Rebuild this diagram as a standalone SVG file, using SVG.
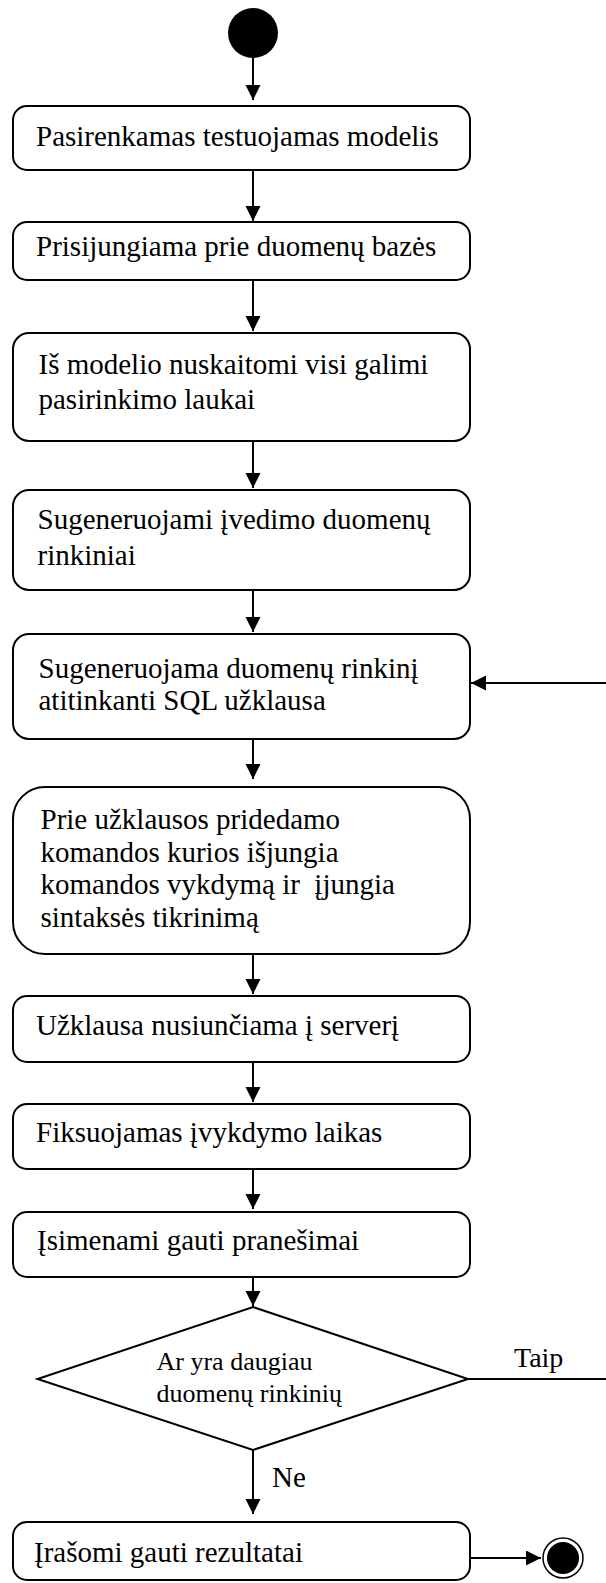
<svg xmlns="http://www.w3.org/2000/svg" width="606" height="1583" viewBox="0 0 606 1583">
<defs>
<marker id="arr" markerUnits="userSpaceOnUse" markerWidth="16" markerHeight="16" refX="15" refY="7.5" orient="auto">
<path d="M0,0 L15,7.5 L0,15 z" fill="#000"/>
</marker>
</defs>
<style>
.box{fill:#fff;stroke:#000;stroke-width:2}
.t{font-family:"Liberation Serif","Times New Roman",serif;font-size:29px;fill:#000}
.td{font-family:"Liberation Serif","Times New Roman",serif;font-size:26px;fill:#000}
.c{stroke:#000;stroke-width:2;fill:none}
.ca{stroke:#000;stroke-width:2;fill:none;marker-end:url(#arr)}
</style>
<rect width="606" height="1583" fill="#fff"/>
<g id="connectors">
<line class="ca" x1="253" y1="58" x2="253" y2="100"/>
<line class="ca" x1="253" y1="170" x2="253" y2="221"/>
<line class="ca" x1="253" y1="280" x2="253" y2="331"/>
<line class="ca" x1="253" y1="441" x2="253" y2="488"/>
<line class="ca" x1="253" y1="590" x2="253" y2="632"/>
<line class="ca" x1="253" y1="739" x2="253" y2="779"/>
<line class="ca" x1="253" y1="954" x2="253" y2="994"/>
<line class="ca" x1="253" y1="1062" x2="253" y2="1102"/>
<line class="ca" x1="253" y1="1169" x2="253" y2="1209"/>
<line class="ca" x1="253" y1="1277" x2="253" y2="1306"/>
<line class="ca" x1="253" y1="1450" x2="253" y2="1514"/>
<line class="ca" x1="470" y1="1558" x2="541" y2="1558"/>
<line class="c" x1="468" y1="1379" x2="606" y2="1379"/>
<line class="ca" x1="606" y1="683" x2="471" y2="683"/>
<text class="t" x="514" y="1367" style="font-size:28px">Taip</text>
<text class="t" x="272" y="1487">Ne</text>
</g>
<g id="start"><circle cx="253" cy="33" r="25" fill="#000"/></g>
<g id="n1"><rect class="box" x="13" y="106" width="457" height="64" rx="14"/>
<text class="t" x="36" y="146">Pasirenkamas testuojamas modelis</text></g>
<g id="n2"><rect class="box" x="13" y="222" width="457" height="58" rx="14"/>
<text class="t" x="36" y="256">Prisijungiama prie duomenų bazės</text></g>
<g id="n3"><rect class="box" x="13" y="333" width="457" height="108" rx="16"/>
<text class="t" x="38.5" y="374">Iš modelio nuskaitomi visi galimi</text>
<text class="t" x="38.5" y="409">pasirinkimo laukai</text></g>
<g id="n4"><rect class="box" x="13" y="490" width="457" height="100" rx="16"/>
<text class="t" x="37.5" y="529">Sugeneruojami įvedimo duomenų</text>
<text class="t" x="37.5" y="565">rinkiniai</text></g>
<g id="n5"><rect class="box" x="13" y="634" width="457" height="105" rx="16"/>
<text class="t" x="38.5" y="678">Sugeneruojama duomenų rinkinį</text>
<text class="t" x="38.5" y="710">atitinkanti SQL užklausa</text></g>
<g id="n6"><rect class="box" x="13" y="787" width="457" height="167" rx="32"/>
<text class="t" x="40.5" y="829">Prie užklausos pridedamo</text>
<text class="t" x="40.5" y="862">komandos kurios išjungia</text>
<text class="t" x="40.5" y="894" xml:space="preserve">komandos vykdymą ir  įjungia</text>
<text class="t" x="40.5" y="927">sintaksės tikrinimą</text></g>
<g id="n7"><rect class="box" x="13" y="996" width="457" height="66" rx="14"/>
<text class="t" x="36" y="1035">Užklausa nusiunčiama į serverį</text></g>
<g id="n8"><rect class="box" x="13" y="1104" width="457" height="65" rx="14"/>
<text class="t" x="36" y="1142">Fiksuojamas įvykdymo laikas</text></g>
<g id="n9"><rect class="box" x="13" y="1212" width="457" height="65" rx="14"/>
<text class="t" x="37" y="1250">Įsimenami gauti pranešimai</text></g>
<g id="decision"><polygon points="253,1307 468,1379 253,1450 37.5,1379" fill="#fff" stroke="#000" stroke-width="2"/>
<text class="td" x="156.5" y="1370">Ar yra daugiau</text>
<text class="td" x="156.5" y="1402">duomenų rinkinių</text></g>
<g id="n10"><rect class="box" x="13" y="1522" width="457" height="58" rx="14"/>
<text class="t" x="34" y="1562">Įrašomi gauti rezultatai</text></g>
<g id="end"><circle cx="563" cy="1558" r="20" fill="#fff" stroke="#000" stroke-width="1.5"/>
<circle cx="563" cy="1558" r="16" fill="#000"/></g>
</svg>
